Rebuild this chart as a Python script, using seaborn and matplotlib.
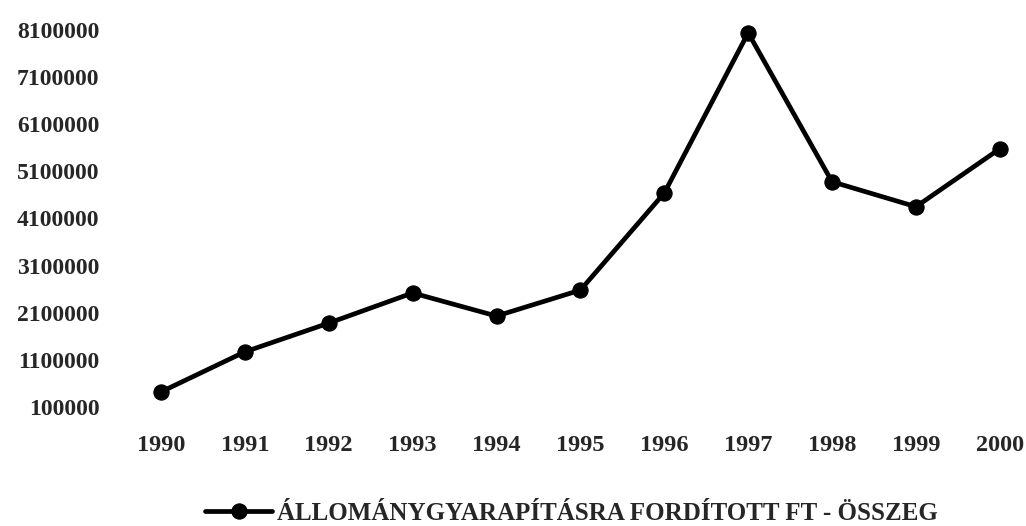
#Chart of yearly spending on collection growth, 1990-2000
import pandas as pd
import matplotlib
matplotlib.use("Agg")
import matplotlib.pyplot as plt
import seaborn as sns

years = [1990, 1991, 1992, 1993, 1994, 1995, 1996, 1997, 1998, 1999, 2000]
amounts = [420000, 1270000, 1880000, 2520000, 2030000, 2580000,
           4640000, 8040000, 4880000, 4350000, 5580000]
y_ticks = [100000, 1100000, 2100000, 3100000, 4100000, 5100000,
           6100000, 7100000, 8100000]
series_name = "ÁLLOMÁNYGYARAPÍTÁSRA FORDÍTOTT FT - ÖSSZEG"

df = pd.DataFrame({"Év": years, "Összeg": amounts})

sns.set_style("white")
plt.rcParams["font.family"] = ["Liberation Serif", "DejaVu Serif"]
plt.rcParams["font.weight"] = "bold"

fig = plt.figure(figsize=(10.26, 5.26), dpi=100)
ax = fig.add_axes([119 / 1026, 1 - 411.7 / 526, (1025 - 119) / 1026, (411.7 - 25.3) / 526])

sns.lineplot(data=df, x="Év", y="Összeg", color="black", linewidth=3.4,
             marker="o", markersize=11, markeredgecolor="black",
             label=series_name, ax=ax, legend=False)

ax.set_xlim(1989.5, 2000.3)
ax.set_ylim(0, 8200000)
ax.set_xticks(years)
ax.set_xticklabels([str(y) for y in years])
ax.set_yticks(y_ticks)
ax.set_yticklabels([str(v) for v in y_ticks])
ax.tick_params(axis="y", length=0, pad=14, labelsize=17)
ax.tick_params(axis="x", length=0, pad=17, labelsize=17.5)
for lab in ax.get_xticklabels() + ax.get_yticklabels():
    lab.set_fontweight("bold")
ax.set_xlabel("")
ax.set_ylabel("")
sns.despine(left=True, bottom=True)

handles, labels = ax.get_legend_handles_labels()
leg = fig.legend(handles, labels, loc="center", bbox_to_anchor=(571.5 / 1026, 1 - 513 / 526),
                 frameon=False, handlelength=2.7, handletextpad=0.2,
                 borderpad=0, prop={"weight": "bold", "size": 18})

fig.savefig("out.png", dpi=100)
